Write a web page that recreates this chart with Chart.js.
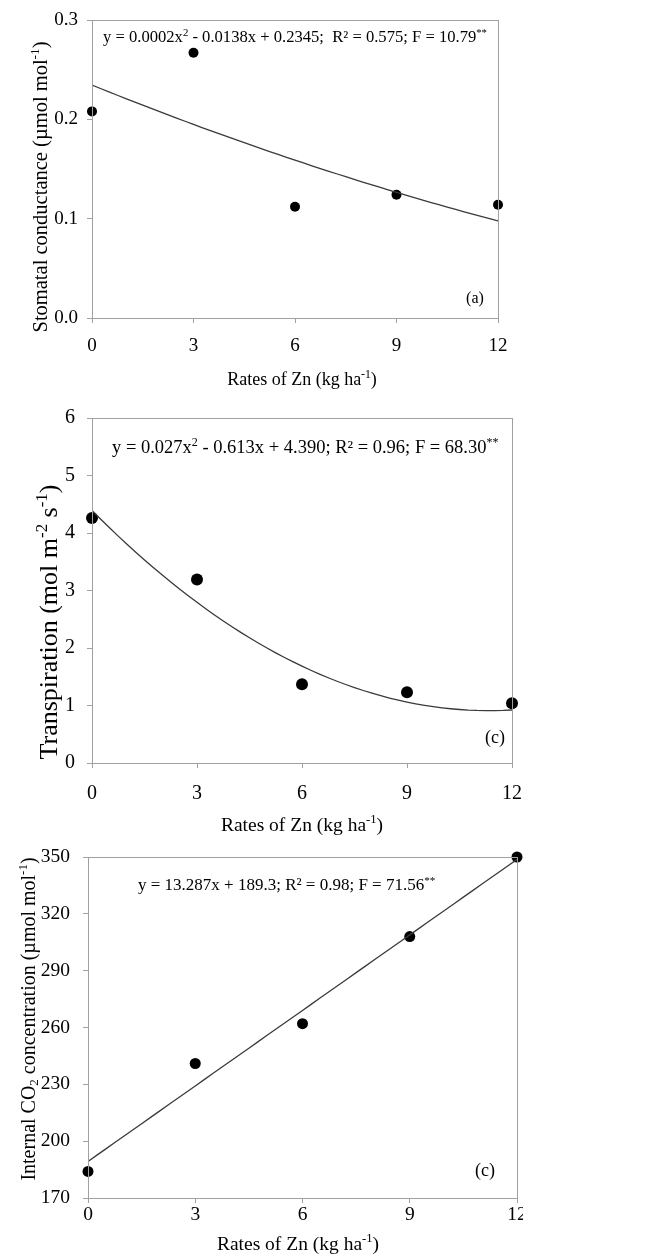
<!DOCTYPE html>
<html>
<head>
<meta charset="utf-8">
<title>Zn rates</title>
<script src="https://cdn.jsdelivr.net/npm/chart.js@4.4.1/dist/chart.umd.min.js"></script>
<style>
  body { margin: 0; background: #fff; }
  canvas { position: absolute; left: 0; }
</style>
</head>
<body>
<canvas id="chartA" width="523" height="400" style="top:0px"></canvas>
<canvas id="chartB" width="523" height="440" style="top:400px"></canvas>
<canvas id="chartC" width="523" height="417" style="top:840px"></canvas>
<script>
const rates = [0, 3, 6, 9, 12];
const stomatal = [0.208, 0.267, 0.112, 0.124, 0.114];
const transpiration = [4.26, 3.19, 1.37, 1.23, 1.04];
const internalCO2 = [184, 241, 262, 308, 350];

// fitted polynomial coefficients [x^2, x, const]
const stomatalFit = [0.0002, -0.0138, 0.2345];
const transpirationFit = [0.027, -0.613, 4.390];
const co2Fit = [0, 13.287, 189.3];

const SERIF = '"Liberation Serif", "Times New Roman", serif';
const AXIS_GREY = "#a0a0a0";

function points(xs, ys) {
  return xs.map((x, i) => ({ x: x, y: ys[i] }));
}

function trend(coef) {
  const pts = [];
  for (let x = 0; x <= 12; x += 0.25) {
    pts.push({ x: x, y: coef[0] * x * x + coef[1] * x + coef[2] });
  }
  return pts;
}

// text with superscript / subscript runs: parts = [[text, "sup"|"sub"|undefined], ...]
function drawRich(ctx, parts, x, y, size, align) {
  const small = size * 0.65;
  let width = 0;
  for (const p of parts) {
    ctx.font = (p[1] ? small : size) + "px " + SERIF;
    width += ctx.measureText(p[0]).width;
  }
  let cx = align === "center" ? x - width / 2 : x;
  ctx.textBaseline = "middle";
  ctx.textAlign = "left";
  ctx.fillStyle = "#000";
  for (const p of parts) {
    ctx.font = (p[1] ? small : size) + "px " + SERIF;
    let dy = 0;
    if (p[1] === "sup") dy = -size * 0.3;
    if (p[1] === "sub") dy = size * 0.22;
    ctx.fillText(p[0], cx, y + dy);
    cx += ctx.measureText(p[0]).width;
  }
}

function textPlugin(t) {
  return {
    id: "texts",
    afterDraw(chart) {
      const ctx = chart.ctx;
      const a = chart.chartArea;
      ctx.save();
      // frame round the plot area
      ctx.strokeStyle = AXIS_GREY;
      ctx.lineWidth = 1;
      ctx.strokeRect(a.left + 0.5, a.top + 0.5, a.right - a.left, a.bottom - a.top);
      drawRich(ctx, t.eq.parts, t.eq.x, t.eq.y, t.eq.size, "left");
      drawRich(ctx, [[t.tag.text]], t.tag.x, t.tag.y, t.tag.size, "center");
      drawRich(ctx, t.xTitle.parts, t.xTitle.x, t.xTitle.y, t.xTitle.size, "center");
      ctx.translate(t.yTitle.x, t.yTitle.y);
      ctx.rotate(-Math.PI / 2);
      drawRich(ctx, t.yTitle.parts, 0, 0, t.yTitle.size, "center");
      ctx.restore();
    },
  };
}

function makeChart(id, o) {
  const canvas = document.getElementById(id);
  return new Chart(canvas, {
    type: "scatter",
    data: {
      datasets: [
        {
          type: "line",
          data: o.fit,
          borderColor: "#3a3a3a",
          borderWidth: 1.3,
          pointRadius: 0,
          tension: 0,
          fill: false,
        },
        {
          data: o.values,
          backgroundColor: "#000",
          borderWidth: 0,
          pointRadius: o.radius,
          pointHoverRadius: o.radius,
          clip: false,
        },
      ],
    },
    options: {
      responsive: false,
      animation: false,
      events: [],
      layout: {
        padding: { left: 0, top: o.area.top, right: canvas.width - o.area.right, bottom: 0 },
      },
      plugins: { legend: { display: false }, tooltip: { enabled: false } },
      scales: {
        x: {
          type: "linear",
          min: 0,
          max: 12,
          ticks: {
            stepSize: 3,
            color: "#000",
            font: { family: SERIF, size: o.tickSize },
            padding: o.xPad,
            maxRotation: 0,
          },
          grid: { drawOnChartArea: false, drawTicks: true, tickLength: 5, color: AXIS_GREY },
          border: { display: true, color: AXIS_GREY },
          afterFit(s) {
            s.height = canvas.height - o.area.bottom;
            s.paddingLeft = 0;
            s.paddingRight = 0;
          },
        },
        y: {
          min: o.yMin,
          max: o.yMax,
          ticks: {
            stepSize: o.yStep,
            color: "#000",
            font: { family: SERIF, size: o.tickSize },
            padding: o.yPad,
            callback: o.yFormat,
          },
          grid: { drawOnChartArea: false, drawTicks: true, tickLength: 5, color: AXIS_GREY },
          border: { display: true, color: AXIS_GREY },
          afterFit(s) {
            s.width = o.area.left;
            s.paddingTop = 0;
            s.paddingBottom = 0;
          },
        },
      },
    },
    plugins: [textPlugin(o.texts)],
  });
}

const znTitle = [["Rates of Zn (kg ha"], ["-1", "sup"], [")"]];

makeChart("chartA", {
  values: points(rates, stomatal),
  fit: trend(stomatalFit),
  radius: 5,
  area: { left: 92, right: 498, top: 20, bottom: 318 },
  yMin: 0, yMax: 0.3, yStep: 0.1,
  yFormat: (v) => v.toFixed(1),
  tickSize: 19, xPad: 12, yPad: 9,
  texts: {
    eq: { x: 103, y: 38, size: 16.6, parts: [["y = 0.0002x"], ["2", "sup"], [" - 0.0138x + 0.2345;  R² = 0.575; F = 10.79"], ["**", "sup"]] },
    tag: { text: "(a)", x: 475, y: 299, size: 16 },
    xTitle: { x: 302, y: 380, size: 18, parts: znTitle },
    yTitle: { x: 42, y: 187, size: 20.5, parts: [["Stomatal conductance (µmol mol"], ["-1", "sup"], [")"]] },
  },
});

makeChart("chartB", {
  values: points(rates, transpiration),
  fit: trend(transpirationFit),
  radius: 6,
  area: { left: 92, right: 512, top: 18, bottom: 363 },
  yMin: 0, yMax: 6, yStep: 1,
  yFormat: (v) => v,
  tickSize: 20, xPad: 14, yPad: 12,
  texts: {
    eq: { x: 112, y: 48, size: 18.5, parts: [["y = 0.027x"], ["2", "sup"], [" - 0.613x + 4.390; R² = 0.96; F = 68.30"], ["**", "sup"]] },
    tag: { text: "(c)", x: 495, y: 338, size: 18 },
    xTitle: { x: 302, y: 426, size: 19.5, parts: znTitle },
    yTitle: { x: 50, y: 222, size: 26, parts: [["Transpiration (mol m"], ["-2", "sup"], [" s"], ["-1", "sup"], [")"]] },
  },
});

makeChart("chartC", {
  values: points(rates, internalCO2),
  fit: trend(co2Fit),
  radius: 5.5,
  area: { left: 88, right: 517, top: 17, bottom: 358 },
  yMin: 170, yMax: 350, yStep: 30,
  yFormat: (v) => v,
  tickSize: 19.5, xPad: 0, yPad: 13,
  texts: {
    eq: { x: 138, y: 46, size: 17, parts: [["y = 13.287x + 189.3; R² = 0.98; F = 71.56"], ["**", "sup"]] },
    tag: { text: "(c)", x: 485, y: 331, size: 18 },
    xTitle: { x: 298, y: 405, size: 19.5, parts: znTitle },
    yTitle: { x: 30, y: 179, size: 20, parts: [["Internal CO"], ["2", "sub"], [" concentration (µmol mol"], ["-1", "sup"], [")"]] },
  },
});
</script>
</body>
</html>
